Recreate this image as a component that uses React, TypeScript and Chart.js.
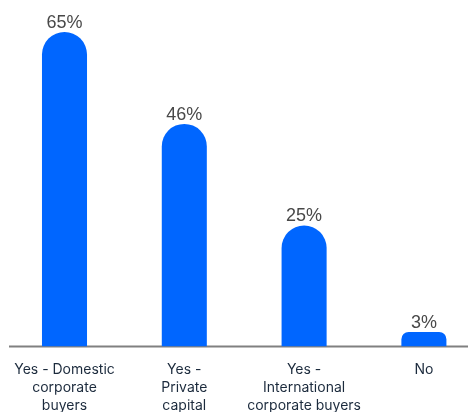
import React, { useEffect, useRef } from "react";
import { Chart, registerables } from "chart.js";

Chart.register(...registerables);

const categories: string[][] = [
  ["Yes - Domestic", "corporate", "buyers"],
  ["Yes -", "Private", "capital"],
  ["Yes -", "International", "corporate buyers"],
  ["No"],
];
const values: number[] = [65, 46, 25, 3];
const valueSuffix = "%";

const BAR_COLOR = "#0066FF";

const valueLabelPlugin = {
  id: "valueLabels",
  afterDatasetsDraw(chart: any) {
    const ctx = chart.ctx;
    const meta = chart.getDatasetMeta(0);
    ctx.save();
    ctx.fillStyle = "#484848";
    ctx.font = "18px 'Liberation Sans', Arial, sans-serif";
    ctx.textAlign = "center";
    ctx.textBaseline = "alphabetic";
    meta.data.forEach((bar: any, i: number) => {
      ctx.fillText(`${values[i]}${valueSuffix}`, bar.x, bar.y - 4);
    });
    ctx.restore();
  },
};

const baselinePlugin = {
  id: "baseline",
  beforeDatasetsDraw(chart: any) {
    const ctx = chart.ctx;
    const y = chart.scales.y.getPixelForValue(0);
    ctx.save();
    ctx.strokeStyle = "#808080";
    ctx.lineWidth = 2;
    ctx.beginPath();
    ctx.moveTo(9, y);
    ctx.lineTo(chart.width, y);
    ctx.stroke();
    ctx.restore();
  },
};

export default function App() {
  const ref = useRef<HTMLCanvasElement | null>(null);

  useEffect(() => {
    if (!ref.current) return;
    const chart = new Chart(ref.current, {
      type: "bar",
      data: {
        labels: categories,
        datasets: [
          {
            data: values,
            backgroundColor: BAR_COLOR,
            borderWidth: 0,
            borderSkipped: "bottom",
            borderRadius: { topLeft: 23, topRight: 23, bottomLeft: 0, bottomRight: 0 },
            categoryPercentage: 1,
            barPercentage: 0.376,
          },
        ],
      },
      options: {
        responsive: false,
        animation: false,
        layout: { padding: { left: 4.6, right: 6.2, top: 32, bottom: -9 } },
        plugins: {
          legend: { display: false },
          tooltip: { enabled: false },
        },
        scales: {
          y: { display: false, min: 0, max: 65 },
          x: {
            grid: { display: false },
            border: { display: false },
            ticks: {
              color: "#1c2b3d",
              font: { family: "Inter, 'Noto Sans', sans-serif", size: 14, lineHeight: 1.3 },
              padding: 6,
              maxRotation: 0,
              autoSkip: false,
            },
          },
        },
      },
      plugins: [baselinePlugin, valueLabelPlugin],
    });
    return () => chart.destroy();
  }, []);

  return (
    <div
      style={{
        position: "absolute",
        left: 0,
        top: 0,
        width: 468,
        height: 412,
        overflow: "hidden",
        background: "#ffffff",
      }}
    >
      <canvas ref={ref} width={490} height={412} style={{ width: 490, height: 412, display: "block" }} />
    </div>
  );
}
